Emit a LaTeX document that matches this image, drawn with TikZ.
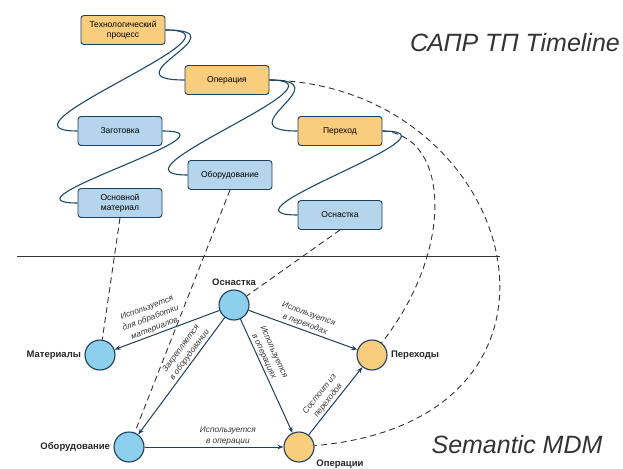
\documentclass[tikz,border=0pt]{standalone}
\usepackage{fontspec}
\setmainfont{Liberation Sans}
\usetikzlibrary{arrows.meta}
\definecolor{boxorange}{HTML}{F9CD7E}
\definecolor{boxblue}{HTML}{B4D5EC}
\definecolor{circblue}{HTML}{8DD0EE}
\definecolor{navy}{HTML}{1D3F5C}
\definecolor{treeline}{HTML}{1B4A6B}
\definecolor{darkgray}{HTML}{333333}

\begin{document}
\begin{tikzpicture}[x=1pt, y=-1pt,
    box/.style={draw=navy, line width=0.9pt, rounded corners=3pt, minimum width=84pt, minimum height=29pt, align=center, inner sep=1pt, font=\fontsize{8.5}{10}\selectfont},
    obox/.style={box, fill=boxorange},
    bbox/.style={box, fill=boxblue},
    tree/.style={draw=treeline, line width=1.1pt},
    circ/.style={shape=circle, draw=navy, line width=1.1pt, minimum size=30pt, inner sep=0pt},
    clab/.style={font=\fontsize{9.5}{11}\selectfont\bfseries, text=black!85},
    arr/.style={draw=navy, line width=1pt, -{Stealth[length=6pt,width=4.5pt]}},
    elab/.style={font=\fontsize{8.3}{10.8}\selectfont\itshape, text=black!80, align=center, inner sep=1.5pt},
    link/.style={draw=darkgray, line width=0.9pt, dash pattern=on 6pt off 4pt},
    title/.style={font=\fontsize{25}{25}\selectfont\itshape, text=darkgray}]
    \useasboundingbox (0,0) rectangle (623,468);

    % timeline
    \node[obox] (tp) at (123,30) {Технологический\\процесс};
    \node[obox] (op) at (227,80) {Операция};
    \node[obox] (pe) at (340,131) {Переход};
    \node[bbox] (zag) at (120,131) {Заготовка};
    \node[bbox] (ob) at (230,175) {Оборудование};
    \node[bbox] (om) at (120,203) {Основной\\материал};
    \node[bbox] (os) at (340,215) {Оснастка};
    \draw[tree] (tp.east) .. controls +(80,0) and +(-80,0) .. (op.west);
    \draw[tree] (tp.east) .. controls +(95,0) and +(-95,0) .. (zag.west);
    \draw[tree] (op.east) .. controls +(75,0) and +(-75,0) .. (pe.west);
    \draw[tree] (op.east) .. controls +(90,0) and +(-90,0) .. (ob.west);
    \draw[tree] (zag.east) .. controls +(85,0) and +(-85,0) .. (om.west);
    \draw[tree] (pe.east) .. controls +(90,0) and +(-90,0) .. (os.west);
    \node[title] (t1) at (515,43) {САПР ТП Timeline};

    \draw[darkgray, line width=0.9pt] (17,256) -- (500,256);

    % semantic model
    \node[circ, fill=circblue, label={[clab]above:Оснастка}] (osc) at (234,305) {};
    \node[circ, fill=circblue, label={[clab]left:Материалы}] (mat) at (100,355) {};
    \node[circ, fill=circblue, label={[clab]left:Оборудование}] (obc) at (129,447) {};
    \node[circ, fill=boxorange, label={[clab, xshift=41pt, yshift=6pt]below:Операции}] (opc) at (299,447) {};
    \node[circ, fill=boxorange, label={[clab]right:Переходы}] (prc) at (372,355) {};
    \draw[arr] (osc) -- node[elab, above, sloped, pos=0.6] {Используется\\для обработки\\материалов} (mat);
    \draw[arr] (osc) -- node[elab, above, sloped, pos=0.35] {Закрепляется\\в оборудовании} (obc);
    \draw[arr] (osc) -- node[elab, above, sloped, pos=0.35] {Используется\\в операциях} (opc);
    \draw[arr] (osc) -- node[elab, above, sloped, pos=0.5] {Используется\\в переходах} (prc);
    \draw[arr] (obc) -- node[elab, above, pos=0.6] {Используется\\в операции} (opc);
    \draw[arr] (opc) -- node[elab, above, sloped, pos=0.45] {Состоит из\\переходов} (prc);
    \node[title] (t2) at (517,445) {Semantic MDM};

    % links between the two
    \draw[link] (om.south) -- (mat);
    \draw[link] (ob.south) -- (obc);
    \draw[link] (os.south) -- (osc);
    \draw[link] (pe.east) .. controls (450,135) and (455,250) .. (prc);
    \draw[link] (op.east) .. controls (520,85) and (610,420) .. (opc);
\end{tikzpicture}
\end{document}
